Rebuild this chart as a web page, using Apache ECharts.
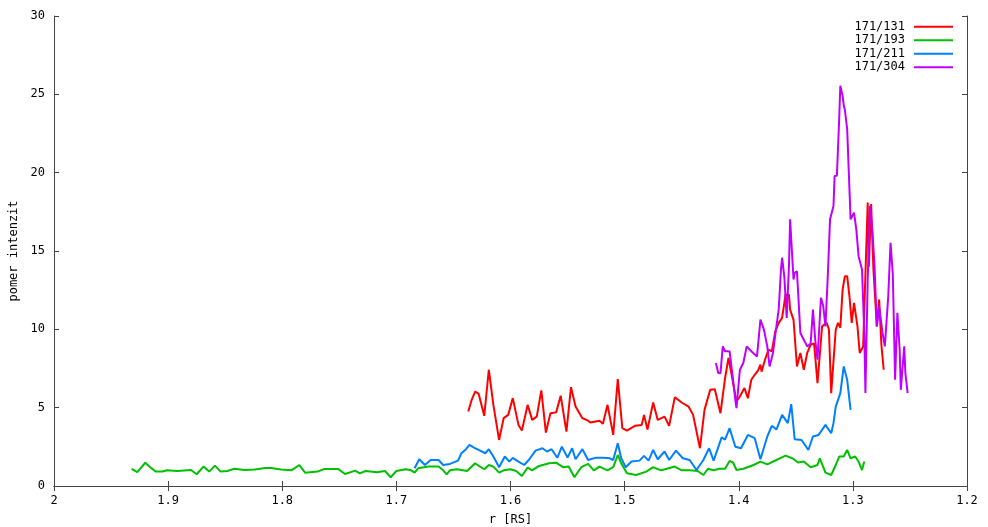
<!DOCTYPE html>
<html>
<head>
<meta charset="utf-8">
<script src="https://cdn.jsdelivr.net/npm/echarts@6/dist/echarts.min.js"></script>
<style>
  html, body { margin: 0; padding: 0; background: #fff; }
  #chart { width: 988px; height: 527px; }
</style>
</head>
<body>
<div id="chart"></div>
<script>
// Intensity ratios against distance r [RS] for the four channel pairs.
var seriesNames = ['171/131', '171/193', '171/211', '171/304'];
var seriesColors = ['#ff0000', '#00c000', '#0080ff', '#c000ff'];

var xTicks = [2, 1.9, 1.8, 1.7, 1.6, 1.5, 1.4, 1.3, 1.2];
var yTicks = [0, 5, 10, 15, 20, 25, 30];

// 171/131
var r131 = [1.637, 1.634, 1.631, 1.628, 1.623, 1.619, 1.615, 1.610, 1.606, 1.602, 1.598, 1.593, 1.590, 1.585, 1.581, 1.577, 1.573, 1.569, 1.565, 1.560, 1.556, 1.551, 1.547, 1.543, 1.537, 1.532, 1.530, 1.522, 1.519, 1.515, 1.510, 1.506, 1.502, 1.498, 1.491, 1.485, 1.483, 1.480, 1.475, 1.471, 1.465, 1.461, 1.456, 1.450, 1.444, 1.440, 1.434, 1.430, 1.425, 1.421, 1.416, 1.412, 1.409, 1.406, 1.402, 1.399, 1.395, 1.392, 1.389, 1.386, 1.383, 1.381, 1.380, 1.377, 1.374, 1.371, 1.368, 1.365, 1.362, 1.359, 1.356, 1.355, 1.352, 1.349, 1.346, 1.343, 1.340, 1.337, 1.334, 1.331, 1.327, 1.323, 1.321, 1.319, 1.315, 1.313, 1.311, 1.309, 1.307, 1.305, 1.303, 1.301, 1.299, 1.296, 1.294, 1.291, 1.287, 1.286, 1.284, 1.282, 1.279, 1.277, 1.275, 1.273];
var v131 = [4.75, 5.50, 6.03, 5.90, 4.48, 7.42, 5.18, 2.94, 4.33, 4.54, 5.61, 3.90, 3.54, 5.18, 4.22, 4.43, 6.10, 3.41, 4.65, 4.70, 5.76, 3.47, 6.31, 5.07, 4.33, 4.17, 4.05, 4.17, 3.97, 5.18, 3.26, 6.82, 3.69, 3.54, 3.84, 3.90, 4.54, 3.60, 5.33, 4.22, 4.43, 3.84, 5.67, 5.33, 5.07, 4.54, 2.41, 4.86, 6.14, 6.18, 4.65, 6.89, 8.17, 7.00, 5.39, 5.71, 6.25, 5.60, 6.78, 7.10, 7.38, 7.74, 7.30, 8.06, 8.70, 8.60, 9.87, 10.41, 10.73, 12.22, 12.20, 11.26, 10.60, 7.63, 8.49, 7.42, 8.49, 9.02, 9.10, 6.57, 10.19, 10.41, 10.00, 5.93, 9.98, 10.41, 10.10, 12.54, 13.39, 13.39, 12.11, 10.41, 11.69, 10.20, 8.49, 8.91, 18.09, 14.00, 18.00, 13.82, 10.19, 11.90, 9.00, 7.42];

// 171/193
var r193 = [1.932, 1.927, 1.920, 1.917, 1.911, 1.905, 1.901, 1.892, 1.880, 1.875, 1.869, 1.864, 1.859, 1.854, 1.848, 1.842, 1.833, 1.824, 1.815, 1.810, 1.801, 1.792, 1.785, 1.780, 1.769, 1.763, 1.751, 1.745, 1.736, 1.732, 1.727, 1.717, 1.710, 1.705, 1.700, 1.692, 1.687, 1.684, 1.681, 1.672, 1.663, 1.659, 1.656, 1.653, 1.647, 1.638, 1.631, 1.626, 1.623, 1.619, 1.615, 1.610, 1.606, 1.600, 1.595, 1.590, 1.585, 1.581, 1.575, 1.566, 1.560, 1.554, 1.549, 1.544, 1.538, 1.532, 1.527, 1.522, 1.515, 1.510, 1.506, 1.503, 1.498, 1.490, 1.481, 1.475, 1.468, 1.463, 1.456, 1.450, 1.443, 1.436, 1.431, 1.427, 1.422, 1.417, 1.412, 1.408, 1.405, 1.402, 1.396, 1.387, 1.381, 1.375, 1.367, 1.359, 1.353, 1.348, 1.343, 1.337, 1.331, 1.329, 1.324, 1.319, 1.315, 1.312, 1.308, 1.305, 1.302, 1.298, 1.295, 1.292, 1.290];
var v193 = [1.09, 0.88, 1.49, 1.28, 0.92, 0.92, 1.00, 0.96, 1.02, 0.75, 1.24, 0.92, 1.30, 0.92, 0.96, 1.10, 1.02, 1.06, 1.15, 1.15, 1.06, 1.00, 1.34, 0.85, 0.92, 1.09, 1.09, 0.77, 0.98, 0.81, 0.96, 0.88, 0.96, 0.56, 0.96, 1.07, 1.00, 0.85, 1.13, 1.24, 1.24, 1.00, 0.75, 1.00, 1.07, 0.96, 1.45, 1.20, 1.07, 1.34, 1.24, 0.85, 1.00, 1.07, 0.96, 0.64, 1.17, 1.00, 1.28, 1.45, 1.49, 1.20, 1.24, 0.56, 1.20, 1.41, 1.00, 1.24, 1.00, 1.20, 1.98, 1.45, 0.81, 0.70, 0.92, 1.20, 1.00, 1.10, 1.24, 1.00, 1.00, 0.96, 0.70, 1.10, 1.00, 1.10, 1.10, 1.60, 1.50, 1.02, 1.10, 1.34, 1.56, 1.38, 1.66, 1.94, 1.77, 1.50, 1.56, 1.20, 1.34, 1.77, 0.85, 0.70, 1.34, 1.88, 1.88, 2.30, 1.77, 1.88, 1.56, 1.02, 1.56];

// 171/211
var r211 = [1.684, 1.680, 1.675, 1.670, 1.663, 1.659, 1.653, 1.646, 1.643, 1.639, 1.636, 1.632, 1.628, 1.622, 1.619, 1.615, 1.610, 1.605, 1.601, 1.598, 1.593, 1.588, 1.584, 1.578, 1.572, 1.568, 1.564, 1.559, 1.555, 1.550, 1.546, 1.543, 1.537, 1.532, 1.525, 1.519, 1.513, 1.510, 1.506, 1.503, 1.499, 1.494, 1.487, 1.483, 1.479, 1.475, 1.471, 1.465, 1.461, 1.455, 1.449, 1.443, 1.437, 1.431, 1.426, 1.422, 1.415, 1.412, 1.408, 1.403, 1.398, 1.392, 1.386, 1.381, 1.375, 1.371, 1.367, 1.362, 1.357, 1.354, 1.351, 1.345, 1.339, 1.335, 1.330, 1.324, 1.319, 1.317, 1.315, 1.311, 1.308, 1.305, 1.302];
var v211 = [1.13, 1.71, 1.34, 1.66, 1.66, 1.34, 1.41, 1.62, 2.09, 2.35, 2.62, 2.45, 2.30, 2.09, 2.35, 1.88, 1.20, 1.88, 1.56, 1.80, 1.56, 1.34, 1.66, 2.26, 2.41, 2.20, 2.35, 1.80, 2.51, 1.81, 2.41, 1.71, 2.35, 1.66, 1.81, 1.81, 1.77, 1.66, 2.73, 1.77, 1.20, 1.56, 1.62, 1.92, 1.62, 2.30, 1.71, 2.20, 1.66, 2.26, 1.77, 1.66, 1.02, 1.66, 2.41, 1.62, 3.10, 2.96, 3.69, 2.51, 2.41, 3.26, 3.05, 1.71, 3.16, 3.84, 3.60, 4.54, 4.01, 5.23, 2.99, 2.94, 2.30, 3.16, 3.26, 3.90, 3.37, 4.01, 5.07, 5.93, 7.63, 6.78, 4.86];

// 171/304
var r304 = [1.420, 1.418, 1.416, 1.414, 1.412, 1.410, 1.408, 1.405, 1.403, 1.402, 1.399, 1.396, 1.393, 1.389, 1.384, 1.381, 1.378, 1.375, 1.373, 1.370, 1.367, 1.365, 1.363, 1.362, 1.360, 1.358, 1.356, 1.355, 1.354, 1.352, 1.351, 1.349, 1.346, 1.343, 1.340, 1.337, 1.335, 1.333, 1.331, 1.328, 1.326, 1.324, 1.322, 1.320, 1.317, 1.316, 1.314, 1.312, 1.311, 1.309, 1.308, 1.307, 1.305, 1.302, 1.299, 1.297, 1.295, 1.292, 1.290, 1.289, 1.287, 1.285, 1.283, 1.281, 1.279, 1.277, 1.274, 1.272, 1.269, 1.267, 1.265, 1.263, 1.261, 1.259, 1.258, 1.255, 1.254, 1.252];
var v304 = [7.85, 7.21, 7.20, 8.91, 8.60, 8.60, 8.59, 6.78, 5.50, 4.97, 7.42, 7.85, 8.91, 8.60, 8.27, 10.62, 10.00, 8.91, 7.63, 8.49, 10.19, 11.26, 13.82, 14.57, 13.30, 10.73, 14.03, 17.02, 15.74, 13.18, 13.61, 13.70, 9.77, 9.34, 8.91, 9.10, 11.26, 9.34, 8.06, 12.01, 11.50, 10.19, 13.39, 17.02, 17.87, 19.79, 19.80, 23.42, 25.55, 24.90, 24.30, 24.00, 22.78, 17.02, 17.45, 16.38, 14.67, 13.82, 9.77, 5.93, 13.20, 17.87, 16.40, 14.03, 10.19, 11.47, 9.77, 8.91, 12.11, 15.53, 13.50, 6.78, 11.05, 8.70, 6.14, 8.91, 7.21, 5.93];

function pairs(xs, ys) {
  var out = [];
  for (var i = 0; i < xs.length; i++) out.push([xs[i], ys[i]]);
  return out;
}

var allR = [r131, r193, r211, r304];
var allV = [v131, v193, v211, v304];

var FONT = '"DejaVu Sans Mono", "Liberation Mono", monospace';
var FRAME = '#444444';

function tickLabel(v) {
  return String(Math.round(v * 10) / 10);
}

var series = seriesNames.map(function (name, i) {
  return {
    name: name,
    type: 'line',
    xAxisIndex: 0,
    yAxisIndex: 0,
    data: pairs(allR[i], allV[i]),
    showSymbol: false,
    symbol: 'none',
    smooth: false,
    lineStyle: { color: seriesColors[i], width: 2 },
    itemStyle: { color: seriesColors[i] },
    z: 2 + i
  };
});

var chart = echarts.init(document.getElementById('chart'), null, { renderer: 'canvas' });
chart.setOption({
  animation: false,
  backgroundColor: '#ffffff',
  grid: { left: 54, right: 21, top: 16, bottom: 41, containLabel: false, outerBoundsMode: 'none' },
  legend: {
    data: seriesNames,
    orient: 'vertical',
    right: 35,
    top: 20,
    align: 'right',
    icon: 'rect',
    itemWidth: 39,
    itemHeight: 2,
    itemGap: 0,
    padding: 0,
    textStyle: {
      fontFamily: FONT, fontSize: 12, color: '#000',
      lineHeight: 13.5, padding: [0, 4, 0, 0]
    }
  },
  xAxis: [
    {
      type: 'value',
      inverse: true,
      min: xTicks[xTicks.length - 1],
      max: xTicks[0],
      interval: 0.1,
      position: 'bottom',
      name: 'r [RS]',
      nameLocation: 'middle',
      nameGap: 28,
      nameTextStyle: { fontFamily: FONT, fontSize: 12, color: '#000' },
      axisLine: { show: true, lineStyle: { color: FRAME, width: 1 } },
      axisTick: { show: true, inside: true, length: 5, lineStyle: { color: FRAME } },
      axisLabel: { show: true, margin: 9, formatter: tickLabel, fontFamily: FONT, fontSize: 12, color: '#000' },
      splitLine: { show: false }
    },
    {
      type: 'value',
      inverse: true,
      min: xTicks[xTicks.length - 1],
      max: xTicks[0],
      interval: 0.1,
      position: 'top',
      axisLine: { show: true, lineStyle: { color: FRAME, width: 1 } },
      axisTick: { show: true, inside: true, length: 5, lineStyle: { color: FRAME } },
      axisLabel: { show: false },
      splitLine: { show: false }
    }
  ],
  yAxis: [
    {
      type: 'value',
      min: yTicks[0],
      max: yTicks[yTicks.length - 1],
      interval: 5,
      position: 'left',
      name: 'pomer intenzit',
      nameLocation: 'middle',
      nameGap: 29,
      nameTextStyle: { fontFamily: FONT, fontSize: 12, color: '#000' },
      axisLine: { show: true, lineStyle: { color: FRAME, width: 1 } },
      axisTick: { show: true, inside: true, length: 5, lineStyle: { color: FRAME } },
      axisLabel: { show: true, margin: 9, fontFamily: FONT, fontSize: 12, color: '#000' },
      splitLine: { show: false }
    },
    {
      type: 'value',
      min: yTicks[0],
      max: yTicks[yTicks.length - 1],
      interval: 5,
      position: 'right',
      axisLine: { show: true, lineStyle: { color: FRAME, width: 1 } },
      axisTick: { show: true, inside: true, length: 5, lineStyle: { color: FRAME } },
      axisLabel: { show: false },
      splitLine: { show: false }
    }
  ],
  series: series
});
</script>
</body>
</html>
